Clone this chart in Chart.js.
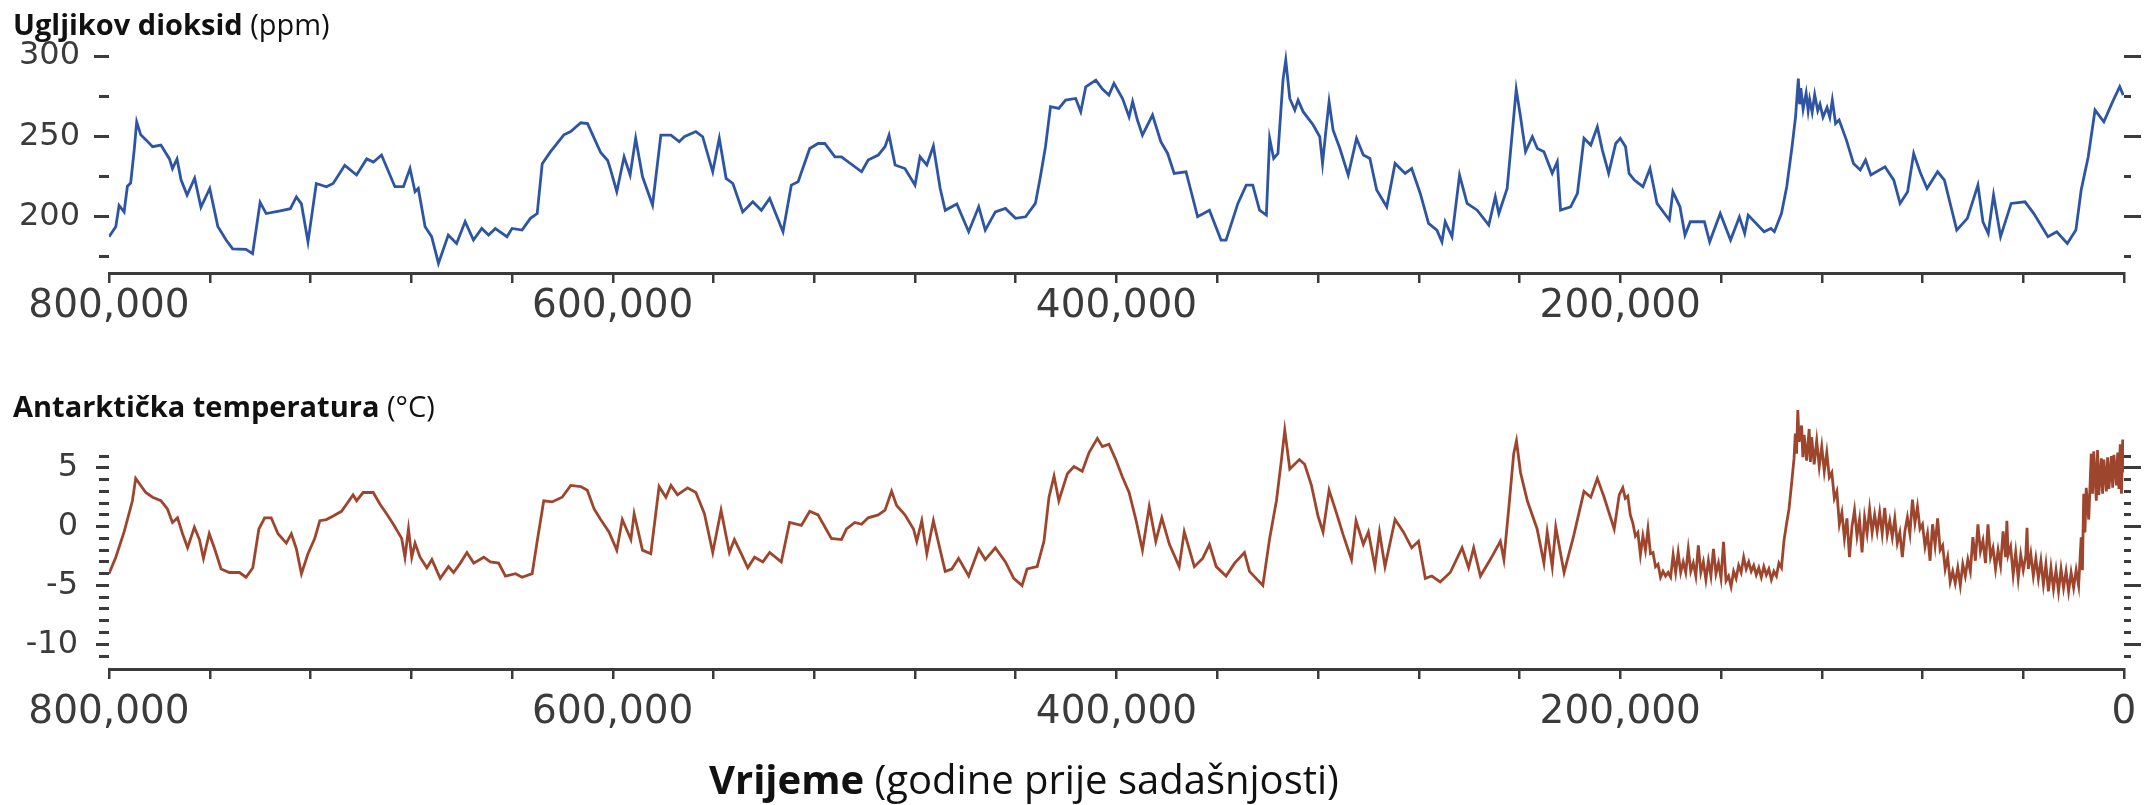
<!DOCTYPE html>
<html>
<head>
<meta charset="utf-8">
<title>Ugljikov dioksid i antarktička temperatura</title>
<script src="https://cdn.jsdelivr.net/npm/chart.js@4.4.1/dist/chart.umd.min.js"></script>
<style>
  html, body { margin: 0; background: #fff; }
  #page { position: relative; width: 2150px; height: 805px; overflow: hidden; background: #fff; }
  canvas { position: absolute; left: 0; }
  .label { position: absolute; font-family: "Open Sans", sans-serif; color: #111; white-space: nowrap; z-index: 2; }
  .label b { font-weight: 700; }
</style>
</head>
<body>
<div id="page">
  <canvas id="co2Chart" width="2150" height="345" style="top:0"></canvas>
  <canvas id="tempChart" width="2150" height="400" style="top:360px"></canvas>
  <div class="label" style="left:13px;top:6px;font-size:29px;line-height:36px"><b>Ugljikov dioksid</b> (ppm)</div>
  <div class="label" style="left:13px;top:388px;font-size:29px;line-height:36px"><b>Antarktička temperatura</b> (°C)</div>
  <div class="label" style="left:709px;top:754px;font-size:40px;line-height:50px"><b>Vrijeme</b> (godine prije sadašnjosti)</div>
</div>
<script>
// values; ages in thousands of years before present
const co2Kyr = [
  800, 797.3, 796, 794, 792.7, 791.4, 790, 789, 787.4, 785.4,
  782.7, 779.4, 776, 774.8, 773, 771.4, 769, 766, 763.5, 760,
  756.8, 753.5, 750.9, 745.6, 743, 740, 737.6, 732, 728, 725.6,
  723.6, 721, 717.7, 713.7, 711, 706.4, 701.7, 697.7, 695, 691.8,
  689.8, 686.5, 683.1, 680.5, 678.5, 677.2, 674.5, 671.9, 669.2, 665.3,
  662, 658.6, 655.3, 652, 649.3, 646.6, 642, 640, 636, 632.7,
  630, 628, 624.7, 619.4, 616.7, 612.7, 610, 604.8, 602, 600.8,
  598.4, 595.5, 593.1, 590.9, 588.2, 584.2, 580.9, 576.9, 573.6, 571.6,
  567, 564.3, 560.3, 557.7, 555, 552.3, 548.4, 544.4, 541, 537.7,
  532.4, 529.1, 526.4, 521.8, 518.5, 515.8, 511.8, 509.2, 501.2, 498.6,
  494.6, 491.9, 490.3, 487.9, 484, 480, 478, 475.3, 472.7, 470,
  468, 463.4, 458.7, 454.7, 452.1, 448.1, 444.1, 440.1, 436.1, 432.2,
  430.2, 428.2, 426.2, 422.9, 420.2, 416.2, 414.2, 412.2, 408.2, 405.6,
  403, 401, 397.6, 395, 393.6, 391.7, 389.7, 385.7, 382.4, 379.7,
  377.1, 372.4, 367.8, 363.1, 358.5, 356.5, 351.8, 348.5, 345.9, 343.2,
  340.5, 339.2, 337.6, 335.9, 333.9, 332.8, 331.2, 329.2, 327.9, 325.9,
  321.9, 319.3, 318.2, 316.9, 315.6, 314, 311.3, 308, 304.7, 302,
  299.4, 296.7, 292.7, 289.4, 285.4, 282.8, 279.4, 276.1, 272.8, 270.8,
  269.5, 266.8, 263.8, 260.8, 256.8, 252.2, 249.6, 248.2, 244.9, 242.9,
  241.3, 239.6, 237.6, 234.9, 232.9, 230.3, 227, 225, 223.7, 219.7,
  217, 214.4, 211.7, 209.1, 207.1, 204.6, 201.8, 200, 197.9, 196.5,
  194.4, 191, 188.2, 185.4, 180.5, 179.1, 176.3, 174.3, 172.2, 166.6,
  164.5, 160.3, 156.2, 152.7, 150.6, 149.2, 142.9, 140.2, 138.8, 136,
  133.9, 131.8, 130.4, 129.3, 128.8, 128.3, 127.4, 126.2, 125.4, 124.8,
  123.8, 122.8, 121.6, 120.7, 119.5, 117.9, 116.8, 115.8, 114.5, 113.1,
  110.2, 107.4, 104.7, 102.6, 100.5, 94.9, 91.4, 88.9, 85.9, 83.5,
  81, 78.2, 74, 71.3, 66.4, 62.2, 58, 56, 53.9, 51.8,
  49, 44.8, 39.3, 35.8, 30.2, 26.7, 22.5, 19.1, 17, 14.2,
  11.5, 8, 4.5, 1.7, 0.3
];
const co2Ppm = [
  187.6, 193.8, 207, 203, 219, 221, 241.5, 259, 251, 248,
  243.6, 244.6, 236, 230, 236, 223, 213.5, 224, 206, 217.6,
  194, 185.5, 180, 179.7, 177, 209, 202, 203.7, 205, 212.4,
  208, 184.4, 220.7, 218.7, 220.7, 232, 226, 236, 234, 238.4,
  231, 218.7, 218.7, 230, 215.6, 217.6, 193.8, 187.6, 171, 188.6,
  183.4, 197, 185.5, 192.7, 188.6, 192.7, 187.6, 192.7, 191.7, 199,
  202, 233, 240.5, 251, 253, 258.5, 258, 240, 235, 229,
  215.6, 237.3, 226, 248.8, 225, 207.3, 250.8, 250.8, 246.7, 249.8,
  253, 249.8, 228, 248.8, 223.9, 220.7, 203, 209.3, 204, 211.4,
  190.7, 219.7, 221.8, 242.5, 245.6, 245.6, 237.3, 237.3, 228, 235.3,
  238.4, 243.6, 250.8, 232.2, 230, 219.7, 237.3, 232.2, 244, 217.6,
  204, 208, 190.7, 206.2, 191.7, 203, 205.2, 199, 200, 208.3,
  225, 243.6, 268.5, 267.4, 272.6, 273.6, 265.4, 280.9, 285, 279.5,
  275.7, 283, 273.6, 262.2, 271.6, 260.2, 250.8, 263.3, 246.7, 239.4,
  227, 228, 200, 204.1, 185.5, 185.5, 208.3, 219.7, 219.7, 204.1,
  201, 248.8, 236.3, 239.4, 285, 297.5, 273.6, 266.4, 272.6, 265.4,
  257.1, 249.8, 233.2, 253, 271.6, 253.9, 242.5, 225.9, 248.8, 238.4,
  236.3, 216.6, 206.2, 233.2, 227, 230, 214.5, 195.9, 191.7, 184.4,
  196.9, 187.6, 225.9, 208.3, 204.1, 194.8, 212.4, 202, 217.6, 251.9,
  279.3, 262.2, 240.5, 249.8, 242.5, 240.5, 227, 234.2, 204.1, 206.2,
  214.5, 248.8, 244.6, 256, 241.5, 227, 245.6, 248.8, 243.6, 227,
  222.8, 218.7, 230, 208.3, 198, 215.6, 206.2, 188.6, 196.9, 196.9,
  184.4, 202, 185.5, 199.9, 189.6, 201, 190.7, 192.7, 190.7, 202,
  218.7, 243.6, 262.2, 286, 270, 280, 267, 277, 266, 273,
  265, 276, 266, 270, 262, 268, 262, 272.6, 258, 260.2,
  247.7, 233.2, 229.1, 235.3, 226, 231.1, 222.8, 208.3, 215.6, 239.4,
  228, 217.6, 228, 222.8, 191.7, 199, 219.7, 196.9, 189.6, 213.5,
  187.6, 208.3, 209.3, 202, 187.6, 190.7, 183.4, 191.7, 216.6, 237.3,
  266.4, 259.1, 271.6, 280.9, 275.7
];

const tempKyr = [
  800, 797.3, 794, 790.7, 789.4, 787.4, 785.4, 782.7, 779.4, 776.8,
  774.8, 772.8, 770.8, 768.8, 766.1, 764.1, 762.5, 760.2, 758.2, 755.5,
  752.2, 748.2, 745.6, 742.9, 740.5, 738.2, 735.6, 732.9, 729.6, 727.6,
  725.6, 723.6, 721, 718.3, 716.3, 713.7, 711, 707.7, 705.7, 703.1,
  701.7, 699.1, 695.1, 692.4, 689.8, 687.1, 683.8, 682.5, 681.1, 679.8,
  678.5, 676.5, 673.8, 671.8, 668.5, 665.2, 663.2, 660.5, 657.9, 655.2,
  651.2, 648.6, 645.3, 642.6, 638.6, 636, 632, 630, 627.4, 624.1,
  620.1, 616.7, 612.7, 610.1, 607.4, 604.8, 601.5, 598.4, 596.2, 592.8,
  591.5, 588.2, 584.9, 581.6, 578.9, 576.9, 574.3, 570.3, 567, 563.6,
  560.3, 557, 553.7, 551.7, 549, 546.4, 543.7, 540.4, 537.7, 533.1,
  529.8, 525.1, 521.8, 518.5, 513.2, 509.2, 507.2, 503.9, 501.2, 498.6,
  494.6, 491.9, 489.3, 487.3, 484, 480.6, 479.3, 477.3, 475.3, 472.7,
  470, 468, 465.4, 462.7, 458.7, 454.7, 452.1, 448.1, 444.1, 440.8,
  437.5, 435.5, 431.5, 428.8, 426.8, 424.8, 422.9, 419.5, 416.9, 413.6,
  410.9, 407.6, 405.6, 403, 400.3, 397.6, 395, 392.3, 389.7, 387,
  384.4, 382, 379, 375.1, 373.1, 369.1, 365.8, 363.1, 360.4, 356.5,
  353.1, 349.2, 347.2, 341.9, 339.2, 336.5, 334.5, 333.2, 331.2, 327.4,
  325.3, 322.6, 320, 318, 315.6, 312.6, 310, 306.7, 304.9, 302,
  300, 297.4, 295.6, 293.4, 289.4, 286.1, 282.8, 280.1, 277.4, 274.8,
  271.5, 267.5, 262.8, 260.2, 258.2, 255.5, 251.6, 247.6, 246.2, 244.2,
  242.3, 241.2, 239.6, 236.9, 233, 230.3, 229, 227, 225.6, 222.3,
  218.4, 214.4, 211.7, 209.1, 206.4, 202.4, 200.4,
  199, 198, 197, 196, 195, 194, 193, 192, 191, 190,
  189, 188, 187, 186, 185, 184, 183, 182, 181, 180,
  179, 178, 177, 176, 175, 174, 173, 172, 171, 170,
  169, 168, 167, 166, 165, 164, 163, 162, 161, 160,
  159, 158, 157, 156, 155, 154, 153, 152, 151, 150,
  149, 148, 147, 146, 145, 144, 143, 142, 141, 140,
  139, 138, 137, 136, 135, 134, 133, 132, 131, 130.5,
  130, 129.5, 129, 128, 127.5, 127, 126, 125, 124.5, 124,
  123, 122, 121, 120, 119, 118, 117, 116, 115, 114,
  113, 112, 111, 110, 109, 108, 107, 106, 105, 104,
  103, 102, 101, 100, 99, 98, 97, 96, 95, 94,
  93, 92, 91, 90, 89, 88, 87, 86, 85, 84,
  83, 82, 81, 80, 79, 78, 77, 76, 75, 74,
  73, 72, 71, 70, 69, 68, 67, 66, 65, 64,
  63, 62, 61, 60, 59, 58, 57, 56, 55, 54,
  53, 52, 51, 50, 49, 48, 47, 46.5, 46, 45,
  44, 43, 42, 41, 40, 39, 38.5, 38, 37, 36,
  35, 34, 33, 32, 31, 30, 29, 28, 27, 26,
  25, 24, 23, 22, 21, 20, 19, 18, 17, 16.5,
  16, 15.5, 15, 14, 13, 12.5, 12, 11, 10.5, 10,
  9, 8.5, 8, 7, 6.5, 6, 5, 4.5, 4, 3,
  2.5, 2, 1.5, 1, 0.5, 0
];
const tempC = [
  -4.0, -2.6, -0.45, 2.2, 4.1, 3.5, 2.9, 2.5, 2.2, 1.5,
  0.35, 0.75, -0.6, -1.8, -0.05, -1.1, -2.7, -0.6, -1.8, -3.6,
  -3.9, -3.9, -4.3, -3.5, -0.2, 0.75, 0.75, -0.6, -1.4, -0.6,
  -1.9, -4.0, -2.3, -1.0, 0.5, 0.6, 0.9, 1.3, 1.9, 2.7,
  2.2, 2.9, 2.9, 1.9, 1.1, 0.2, -1.0, -2.6, -0.2, -2.6,
  -1.4, -2.6, -3.5, -2.8, -4.4, -3.4, -3.9, -3.1, -2.2, -3.1,
  -2.6, -3.0, -3.1, -4.2, -4.0, -4.3, -4.0, -1.25, 2.2, 2.1,
  2.5, 3.5, 3.4, 3.1, 1.5, 0.6, -0.45, -2.0, 0.6, -1.1,
  1.1, -2.0, -2.3, 3.4, 2.5, 3.5, 2.7, 3.3, 2.9, 1.1,
  -2.2, 1.4, -2.2, -1.1, -2.3, -3.5, -2.6, -3.0, -2.2, -3.0,
  0.35, 0.1, 1.3, 1.0, -1.0, -1.1, -0.2, 0.35, 0.2, 0.75,
  1.0, 1.4, 3.0, 1.8, 1.0, -0.2, -1.25, 0.5, -2.3, 0.5,
  -2.0, -3.8, -3.6, -2.7, -4.2, -1.9, -2.8, -1.8, -3.0, -4.4,
  -5.0, -3.6, -3.4, -1.25, 2.5, 4.3, 2.2, 4.5, 5.1, 4.7,
  6.3, 7.5, 6.8, 7.0, 5.7, 4.2, 2.9, 0.6, -2.0, 1.7,
  -1.25, 0.75, -1.5, -3.4, -0.45, -3.4, -2.7, -1.5, -3.4, -4.2,
  -3.1, -2.2, -3.8, -5.0, -1.0, 2.2, 5.7, 8.2, 4.9, 5.7,
  5.3, 3.5, 0.9, -0.45, 3.1, 1.1, -0.7, -2.8, 0.5, -1.5,
  -0.45, -3.4, -0.45, -3.4, 0.6, -0.45, -1.8, -1.25, -4.4, -4.2,
  -4.7, -3.9, -1.8, -3.5, -1.8, -4.2, -2.8, -1.25, -2.8, 1.7,
  6.2, 7.3, 4.6, 2.2, -0.2, -3.1, -0.45, -3.4, -0.05, -3.9,
  -0.7, 3.0, 2.5, 4.1, 2.5, -0.2, 2.7,
  3.3, 2.4, 2.6, 1.0, 0.3, -0.8, -0.5, -2.4, -0.8, -2.0,
  -0.2, -2.3, -2.2, -3.4, -3.2, -4.3, -3.8, -4.2, -3.9, -4.3,
  -2.4, -3.9, -2.2, -3.9, -3.0, -3.9, -1.9, -3.8, -3.1, -4.2,
  -1.6, -3.9, -3.0, -4.5, -2.9, -4.2, -1.9, -4.0, -3.1, -4.4,
  -1.3, -4.6, -4.2, -5.1, -3.8, -4.4, -3.3, -3.9, -2.6, -3.6,
  -3.0, -3.8, -3.3, -4.1, -3.5, -4.3, -3.4, -4.1, -3.6, -4.5,
  -3.8, -4.2, -3.1, -3.5, -1.2, 0.2, 1.5, 3.6, 5.8, 7.9,
  6.2, 9.9, 7.2, 8.6, 5.9, 7.8, 5.6, 8.3, 5.5, 7.6,
  5.3, 7.3, 5.1, 6.8, 4.7, 6.3, 4.2, 4.6, 2.4, 3.0,
  0.2, 1.2, -1.0, 0.7, -2.6, 0.0, 1.4, -0.8, 0.6, -2.2,
  0.8, -0.6, 1.5, -0.5, 1.0, -0.4, 1.2, -0.6, 1.6, -0.7,
  0.5, -0.9, 0.7, -1.4, -0.5, -2.6, -0.4, 0.8, -0.6, 2.3,
  0.3, 1.7, -0.2, 0.2, -1.7, -0.6, -2.9, 0.2, -1.6, 0.7,
  -2.0, -1.6, -3.6, -2.6, -4.7, -3.8, -4.8, -3.5, -5.0, -3.2,
  -4.2, -2.8, -3.8, -0.9, -2.9, 0.2, -2.1, -1.2, -3.1, 0.2,
  -2.6, -1.8, -3.6, -2.0, -3.3, -0.4, -2.6, 0.5, -2.4, -1.7,
  -4.1, -2.2, -4.4, -2.4, -3.7, -2.5, -0.1, -3.6, -2.3, -4.2,
  -2.7, -4.4, -2.9, -4.9, -3.2, -5.5, -3.5, -5.3, -3.7, -5.5,
  -3.6, -5.2, -3.8, -5.5, -3.9, -5.2, -3.7, -5.0, -0.9, -3.7,
  2.8, -0.5, 3.3, 0.6, 6.2, 2.8, 6.4, 2.2, 6.5, 2.7,
  5.8, 2.8, 5.7, 3.0, 5.9, 3.2, 6.0, 3.3, 6.1, 3.5,
  6.3, 3.2, 7.0, 2.8, 7.4, 4.6
];

// axis ticks
const xTickYears = [800000, 760000, 720000, 680000, 640000, 600000, 560000, 520000, 480000, 440000,
  400000, 360000, 320000, 280000, 240000, 200000, 160000, 120000, 80000, 40000, 0];
const co2LabelYears = [800000, 600000, 400000, 200000];
const tempLabelYears = [800000, 600000, 400000, 200000, 0];
const co2MajorTicks = [200, 250, 300];
const co2MinorTicks = [175, 225, 275];
const tempMajorTicks = [-10, -5, 0, 5];
const tempMinorTicks = [-11, -9, -8, -7, -6, -4, -3, -2, -1, 1, 2, 3, 4, 6];

const ink = "#3b3b3b";
const numberFamily = '"DejaVu Sans", sans-serif';

const useTicks = (values) => (scale) => { scale.ticks = values.map((value) => ({ value })); };

function xAxis(labelYears, padding, height) {
  return {
    type: "linear", position: "bottom", reverse: true, min: 0, max: 800000,
    afterBuildTicks: useTicks(xTickYears),
    afterFit: (scale) => { scale.height = height; },
    ticks: {
      autoSkip: false, maxRotation: 0, minRotation: 0, padding, color: ink,
      font: { family: numberFamily, size: 39 },
      callback: (value) => (labelYears.includes(value) ? value.toLocaleString("en-US") : ""),
    },
    grid: { drawOnChartArea: false, drawTicks: true, tickLength: 10, color: ink, lineWidth: 2.5 },
    border: { display: true, color: ink, width: 3 },
  };
}

function yAxis(position, weight, range, values, tickLength, width, labelPadding) {
  const labelled = labelPadding !== null;
  return {
    type: "linear", position, weight, min: range[0], max: range[1],
    afterBuildTicks: useTicks(values),
    afterFit: (scale) => { scale.width = width; },
    ticks: {
      display: labelled, padding: labelled ? labelPadding : 0, color: ink,
      font: { family: numberFamily, size: 32 },
      callback: (value) => String(value),
    },
    grid: { drawOnChartArea: false, drawTicks: true, tickLength, color: ink, lineWidth: 3 },
    border: { display: false },
  };
}

function series(kyr, values, color, width) {
  return {
    data: kyr.map((age, i) => ({ x: age * 1000, y: values[i] })),
    borderColor: color, borderWidth: width, pointRadius: 0, tension: 0, fill: false, yAxisID: "y",
  };
}

function baseOptions(top, scales) {
  return {
    responsive: false, animation: false, devicePixelRatio: 1, events: [],
    layout: { padding: { top, left: 0, right: 0, bottom: 0 } },
    plugins: { legend: { display: false }, tooltip: { enabled: false } },
    scales,
  };
}

const co2Range = [165, 310];
new Chart(document.getElementById("co2Chart"), {
  type: "line",
  data: { datasets: [series(co2Kyr, co2Ppm, "#2d55a3", 2.8)] },
  options: baseOptions(40, {
    x: xAxis(co2LabelYears, 0, 72),
    y: yAxis("left", 1, co2Range, co2MajorTicks, 15, 109, 14),
    yMinor: yAxis("left", 0, co2Range, co2MinorTicks, 10, 0, null),
    yRight: yAxis("right", 1, co2Range, co2MajorTicks, 17, 26, null),
    yRightMinor: yAxis("right", 0, co2Range, co2MinorTicks, 7, 0, null),
  }),
});

const tempRange = [-12.1, 11];
new Chart(document.getElementById("tempChart"), {
  type: "line",
  data: { datasets: [series(tempKyr, tempC, "#9e452d", 2.8)] },
  options: baseOptions(20, {
    x: xAxis(tempLabelYears, 10, 91),
    y: yAxis("left", 1, tempRange, tempMajorTicks, 13, 109, 18),
    yMinor: yAxis("left", 0, tempRange, tempMinorTicks, 10, 0, null),
    yRight: yAxis("right", 1, tempRange, tempMajorTicks, 17, 26, null),
    yRightMinor: yAxis("right", 0, tempRange, tempMinorTicks, 7, 0, null),
  }),
});
</script>
</body>
</html>
